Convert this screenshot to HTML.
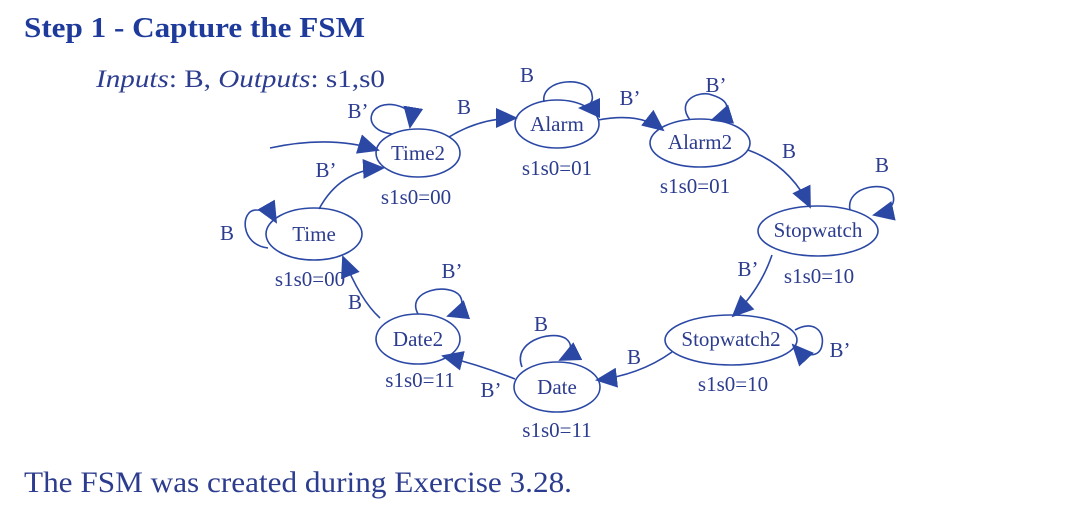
<!DOCTYPE html>
<html><head><meta charset="utf-8"><style>
body{margin:0;background:#fff;}
svg{display:block;font-family:"Liberation Serif",serif;}
.s{fill:none;stroke:#2b48a5;stroke-width:1.6;}
.t{fill:#2c3c8e;font-size:21px;}
</style></head><body>
<svg width="1081" height="505" viewBox="0 0 1081 505">
<defs>
<marker id="b" markerWidth="22" markerHeight="20" refX="20" refY="10" orient="auto" markerUnits="userSpaceOnUse"><path d="M0,0L22,10L0,20z" fill="#2b48a5"/></marker></defs>
<text x="24" y="37" font-size="28" font-weight="bold" fill="#1e3a9a" textLength="341" lengthAdjust="spacingAndGlyphs">Step 1 - Capture the FSM</text>
<text x="96" y="87" font-size="25" fill="#2c3c8e" textLength="289" lengthAdjust="spacingAndGlyphs"><tspan font-style="italic">Inputs</tspan>: B, <tspan font-style="italic">Outputs</tspan>: s1,s0</text>
<text x="24" y="492" font-size="30" fill="#2c3c8e" textLength="548" lengthAdjust="spacingAndGlyphs">The FSM was created during Exercise 3.28.</text>
<g>
<ellipse class="s" cx="418" cy="153" rx="42" ry="24"/>
<ellipse class="s" cx="557" cy="124" rx="42" ry="24"/>
<ellipse class="s" cx="700" cy="143" rx="50" ry="24"/>
<ellipse class="s" cx="818" cy="231" rx="60" ry="25"/>
<ellipse class="s" cx="731" cy="340" rx="66" ry="25"/>
<ellipse class="s" cx="557" cy="387" rx="43" ry="25"/>
<ellipse class="s" cx="418" cy="339" rx="42" ry="25"/>
<ellipse class="s" cx="314" cy="234" rx="48" ry="26"/>
</g>
<g class="t" text-anchor="middle">
<text x="418" y="160">Time2</text><text x="557" y="131">Alarm</text><text x="700" y="149">Alarm2</text>
<text x="818" y="237">Stopwatch</text><text x="731" y="346">Stopwatch2</text><text x="557" y="394">Date</text>
<text x="418" y="346">Date2</text><text x="314" y="241">Time</text>
<text x="416" y="204">s1s0=00</text><text x="557" y="175">s1s0=01</text><text x="695" y="193">s1s0=01</text>
<text x="819" y="283">s1s0=10</text><text x="733" y="391">s1s0=10</text><text x="557" y="437">s1s0=11</text>
<text x="420" y="387">s1s0=11</text><text x="310" y="286">s1s0=00</text>
<text x="358" y="118">B’</text><text x="464" y="114">B</text><text x="527" y="82">B</text><text x="630" y="105">B’</text>
<text x="716" y="92">B’</text><text x="789" y="158">B</text><text x="882" y="172">B</text><text x="748" y="276">B’</text>
<text x="840" y="357">B’</text><text x="634" y="364">B</text><text x="541" y="331">B</text><text x="491" y="397">B’</text>
<text x="452" y="278">B’</text><text x="355" y="309">B</text><text x="227" y="240">B</text><text x="326" y="177">B’</text>
</g>
<g>
<path class="s" d="M270,148 Q330,135 378,150" marker-end="url(#b)"/>
<path class="s" d="M319,209 Q340,170 383,168" marker-end="url(#b)"/>
<path class="s" d="M392,134 C360,130 368,100 395,105 C410,108 412,115 410,127" marker-end="url(#b)"/>
<path class="s" d="M449,137 Q480,118 516,118" marker-end="url(#b)"/>
<path class="s" d="M544,102 C540,78 590,75 592,95 C594,102 588,108 580,108" marker-end="url(#b)"/>
<path class="s" d="M598,120 Q640,112 663,130" marker-end="url(#b)"/>
<path class="s" d="M690,120 C675,100 700,90 712,95 C735,102 728,115 712,120" marker-end="url(#b)"/>
<path class="s" d="M748,150 Q790,165 810,207" marker-end="url(#b)"/>
<path class="s" d="M850,210 C845,185 890,180 893,195 C896,205 888,212 874,215" marker-end="url(#b)"/>
<path class="s" d="M772,255 Q760,290 733,316" marker-end="url(#b)"/>
<path class="s" d="M795,330 C812,320 825,330 822,345 C820,358 805,358 793,345" marker-end="url(#b)"/>
<path class="s" d="M672,352 Q640,375 597,380" marker-end="url(#b)"/>
<path class="s" d="M522,367 C512,342 550,330 565,338 C575,345 570,355 560,360" marker-end="url(#b)"/>
<path class="s" d="M515,379 Q480,365 443,356" marker-end="url(#b)"/>
<path class="s" d="M418,314 C405,290 450,282 460,296 C465,305 460,312 448,316" marker-end="url(#b)"/>
<path class="s" d="M380,318 Q360,300 343,257" marker-end="url(#b)"/>
<path class="s" d="M268,248 C240,245 240,210 256,210 C266,210 272,215 276,222" marker-end="url(#b)"/>
</g>
</svg>
</body></html>
